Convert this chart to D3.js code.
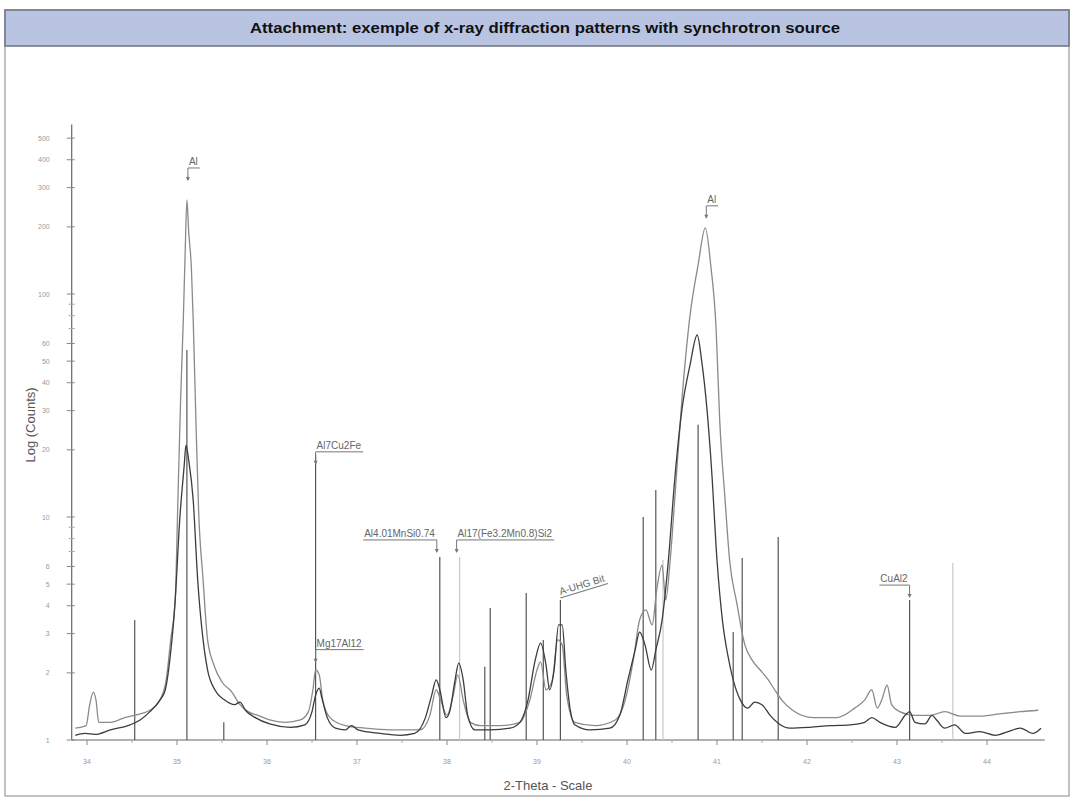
<!DOCTYPE html>
<html><head><meta charset="utf-8">
<script src="https://cdn.jsdelivr.net/npm/d3@7"></script>
<style>body{margin:0;background:#fff;} svg{display:block;font-family:"Liberation Sans",Arial,sans-serif;}</style>
</head><body><svg id="c" width="1074" height="798"></svg>
<script>
// ---------- data ----------
const titleText = "Attachment: exemple of x-ray diffraction patterns with synchrotron source";
const xTitle = "2-Theta - Scale";
const yTitle = "Log (Counts)";
const xTickValues = [34,35,36,37,38,39,40,41,42,43,44];
const yTickValues = [1,2,3,4,5,6,10,20,30,40,50,60,100,200,300,400,500];
const yMinorValues = [7,8,9,70,80,90];

// scan A (lighter trace, tall Al peaks)
const scanATheta = [33.87,33.99,34.03,34.07,34.10,34.13,34.26,34.42,34.59,34.70,34.81,34.88,34.93,34.98,35.01,35.04,35.07,35.09,35.11,35.13,35.16,35.18,35.21,35.24,35.29,35.34,35.41,35.50,35.61,35.70,35.79,35.90,36.03,36.20,36.37,36.46,36.51,36.54,36.58,36.62,36.70,36.87,37.09,37.37,37.70,37.81,37.88,37.93,38.00,38.07,38.12,38.18,38.26,38.37,38.59,38.81,38.92,39.00,39.04,39.10,39.17,39.23,39.28,39.33,39.42,39.64,39.87,39.98,40.07,40.14,40.21,40.28,40.33,40.39,40.43,40.48,40.53,40.61,40.70,40.79,40.87,40.93,40.99,41.03,41.09,41.14,41.22,41.31,41.39,41.48,41.57,41.64,41.72,41.84,42.07,42.33,42.53,42.64,42.72,42.78,42.83,42.89,42.94,43.03,43.20,43.37,43.53,43.70,43.92,44.14,44.37,44.57];
const scanACounts = [1.13,1.16,1.44,1.64,1.51,1.20,1.20,1.26,1.31,1.36,1.51,1.86,2.81,4.24,11.9,33.5,76.4,150,264,190,130,76.4,27.2,10.7,5.22,2.81,2.17,1.82,1.64,1.44,1.34,1.29,1.23,1.20,1.23,1.34,1.68,2.06,1.96,1.51,1.26,1.16,1.13,1.11,1.11,1.29,1.68,1.51,1.29,1.59,1.96,1.51,1.20,1.16,1.16,1.20,1.51,2.06,2.24,1.68,1.86,2.81,2.67,1.59,1.20,1.16,1.23,1.51,2.28,3.45,3.83,3.28,4.71,6.09,4.24,6.41,11.9,33.5,80,135,198,135,70,27.2,11.9,6.41,4.11,2.67,2.28,2.06,1.86,1.68,1.51,1.36,1.26,1.26,1.39,1.51,1.68,1.39,1.51,1.76,1.44,1.34,1.29,1.29,1.34,1.28,1.28,1.31,1.34,1.36];

// scan B (darker trace, lower Al peaks)
const scanBTheta = [33.87,33.98,34.09,34.26,34.48,34.59,34.70,34.81,34.87,34.92,34.98,35.03,35.08,35.10,35.13,35.18,35.23,35.29,35.34,35.42,35.53,35.64,35.70,35.76,35.87,36.03,36.26,36.42,36.50,36.54,36.58,36.61,36.67,36.76,36.87,36.94,37.01,37.26,37.48,37.64,37.76,37.83,37.88,37.92,37.99,38.03,38.09,38.13,38.18,38.23,38.31,38.48,38.70,38.81,38.90,38.98,39.04,39.10,39.14,39.19,39.24,39.28,39.32,39.37,39.42,39.59,39.81,39.92,40.01,40.09,40.14,40.20,40.27,40.32,40.39,40.46,40.53,40.61,40.70,40.78,40.83,40.89,40.94,41.00,41.06,41.12,41.18,41.26,41.34,41.42,41.50,41.59,41.68,41.81,42.03,42.26,42.48,42.64,42.72,42.81,42.98,43.09,43.14,43.20,43.31,43.39,43.44,43.53,43.64,43.76,43.92,44.09,44.26,44.37,44.51,44.60];
const scanBCounts = [1.05,1.07,1.06,1.11,1.17,1.23,1.34,1.51,1.68,2.28,4.24,9.7,17.0,21.0,18.0,11.9,5.22,2.81,2.06,1.68,1.51,1.44,1.48,1.36,1.26,1.18,1.14,1.17,1.34,1.59,1.71,1.54,1.26,1.13,1.11,1.16,1.11,1.07,1.05,1.07,1.26,1.59,1.86,1.68,1.26,1.34,1.86,2.21,1.86,1.29,1.11,1.11,1.13,1.20,1.51,2.28,2.72,2.17,1.68,2.06,3.28,3.28,2.06,1.36,1.17,1.11,1.13,1.29,1.86,2.53,3.05,2.67,2.06,2.53,3.45,6.41,14.7,30.2,48,65.5,50,30,16.3,6.41,3.45,2.40,1.86,1.51,1.39,1.48,1.44,1.29,1.19,1.13,1.14,1.16,1.17,1.20,1.26,1.20,1.14,1.29,1.34,1.20,1.18,1.29,1.23,1.13,1.17,1.07,1.09,1.05,1.10,1.13,1.07,1.13];

// reference pattern sticks
const stickTheta  = [34.53,35.11,35.52,36.54,37.92,38.14,38.42,38.48,38.88,39.07,39.26,40.18,40.32,40.40,40.79,41.18,41.28,41.68,43.14,43.62];
const stickCounts = [3.45,56.1,1.20,19.0,6.62,6.62,2.13,3.91,4.56,2.81,4.24,10.0,13.2,6.41,25.9,3.05,6.55,8.13,4.24,6.22];
const stickFaint  = [false,false,false,false,false,true,false,false,false,false,false,false,false,true,false,false,false,false,false,true];

// phase labels
const labelText  = ["Al","Al","Al7Cu2Fe","Mg17Al12","Al4.01MnSi0.74","Al17(Fe3.2Mn0.8)Si2","A-UHG Bit","CuAl2"];
const labelTheta = [35.11,40.87,36.54,36.54,37.92,38.14,39.26,43.14];
const labelCount = [264,198,19.0,2.2,6.62,6.62,4.24,4.24];

// ---------- layout ----------
const svg = d3.select("#c");
const x = d3.scaleLinear().domain([34,44]).range([87,987]);
const y = d3.scaleLog().domain([1,10]).range([740,517]);
const yTopCount = 575, xRightTheta = 44.64, xLeftTheta = 33.83;

// frame and title bar
svg.append("rect").attr("x",5).attr("y",10).attr("width",1064).attr("height",786)
  .attr("fill","#fff").attr("stroke","#9a9a9a").attr("stroke-width",1.2);
svg.append("rect").attr("x",5).attr("y",10).attr("width",1064).attr("height",36)
  .attr("fill","#b9c4e3").attr("stroke","#6f737d").attr("stroke-width",1.5);
svg.append("text").attr("x",545).attr("y",33).attr("text-anchor","middle")
  .attr("font-size",14).attr("font-weight","bold").attr("fill","#111")
  .attr("textLength",590).attr("lengthAdjust","spacingAndGlyphs").text(titleText);

const g = svg.append("g");
// axes
g.append("line").attr("x1",x(xLeftTheta)).attr("x2",x(xLeftTheta)).attr("y1",y(1)).attr("y2",y(yTopCount))
  .attr("stroke","#666").attr("stroke-width",1.2);
g.append("line").attr("x1",x(xLeftTheta)).attr("x2",x(xRightTheta)).attr("y1",y(1)).attr("y2",y(1))
  .attr("stroke","#666").attr("stroke-width",1.2);
const x0 = x(xLeftTheta);
yTickValues.forEach(v=>{
  g.append("line").attr("x1",x0-5).attr("x2",x0+3).attr("y1",y(v)).attr("y2",y(v)).attr("stroke","#888");
  g.append("text").attr("x",x0-22).attr("y",y(v)+2.5).attr("text-anchor","end")
    .attr("font-size",7).attr("fill","#999").text(v);
});
yMinorValues.forEach(v=>{
  g.append("line").attr("x1",x0-3).attr("x2",x0+3).attr("y1",y(v)).attr("y2",y(v)).attr("stroke","#aaa");
});
xTickValues.forEach(v=>{
  g.append("line").attr("x1",x(v)).attr("x2",x(v)).attr("y1",y(1)).attr("y2",y(1)+5).attr("stroke","#888");
  g.append("text").attr("x",x(v)).attr("y",y(1)+24).attr("text-anchor","middle")
    .attr("font-size",7).attr("fill","#999").text(v);
  if (v<44) g.append("line").attr("x1",x(v+0.5)).attr("x2",x(v+0.5)).attr("y1",y(1)).attr("y2",y(1)+3).attr("stroke","#aaa");
});
svg.append("text").attr("x",548).attr("y",790).attr("text-anchor","middle")
  .attr("font-size",13).attr("fill","#555").text(xTitle);
svg.append("text").attr("transform","translate(35,425) rotate(-90)").attr("text-anchor","middle")
  .attr("font-size",13).attr("fill","#555").text(yTitle);

// sticks
stickTheta.forEach((t,i)=>{
  g.append("line").attr("x1",x(t)).attr("x2",x(t)).attr("y1",y(1)).attr("y2",y(stickCounts[i]))
    .attr("stroke",stickFaint[i]?"#c8c8c8":"#555").attr("stroke-width",1.2);
});

// traces
const line = d3.line().x(d=>x(d[0])).y(d=>y(d[1])).curve(d3.curveMonotoneX);
g.append("path").datum(d3.zip(scanATheta,scanACounts)).attr("d",line)
  .attr("fill","none").attr("stroke","#8a8a8a").attr("stroke-width",1.3);
g.append("path").datum(d3.zip(scanBTheta,scanBCounts)).attr("d",line)
  .attr("fill","none").attr("stroke","#3c3c3c").attr("stroke-width",1.3);

// labels: layout per label
const labelLayout = [
  {dx:2, dy:-32, lead:"up"},
  {dx:2, dy:-22, lead:"up"},
  {dx:1, dy:-3, lead:"right"},
  {dx:1, dy:-14, lead:"right"},
  {dx:-3, dy:-17, lead:"left"},
  {dx:-2, dy:-17, lead:"right"},
  {dx:0, dy:-2, lead:"rot"},
  {dx:0, dy:-15, lead:"left"}
];
labelText.forEach((s,i)=>{
  const L = labelLayout[i];
  const px = x(labelTheta[i]), py = y(labelCount[i]);
  const ty = py + L.dy;
  const fs = 10;
  if (L.lead==="rot"){
    const gg = g.append("g").attr("transform",`translate(${px},${ty}) rotate(-17)`);
    const t = gg.append("text").attr("x",1).attr("y",-3).attr("font-size",fs).attr("fill","#666").text(s);
    const w = t.node().getComputedTextLength();
    gg.append("line").attr("x1",0).attr("x2",w+3).attr("y1",0).attr("y2",0).attr("stroke","#777");
    return;
  }
  const t = g.append("text").attr("font-size",fs).attr("fill","#666").text(s);
  const w = t.node().getComputedTextLength();
  let tx;
  if (L.lead==="left") tx = px + L.dx - w - 2;
  else tx = px + L.dx;
  t.attr("x",tx).attr("y",ty-3);
  g.append("line").attr("x1",tx-1).attr("x2",tx+w+2).attr("y1",ty).attr("y2",ty).attr("stroke","#777");
  const lx = L.lead==="left" ? tx+w+2 : tx-1;
  g.append("line").attr("x1",lx).attr("x2",lx).attr("y1",ty).attr("y2",ty+12).attr("stroke","#777");
  g.append("path").attr("d",`M${lx-2},${ty+9}L${lx+2},${ty+9}L${lx},${ty+13}Z`).attr("fill","#777");
});
</script></body></html>
